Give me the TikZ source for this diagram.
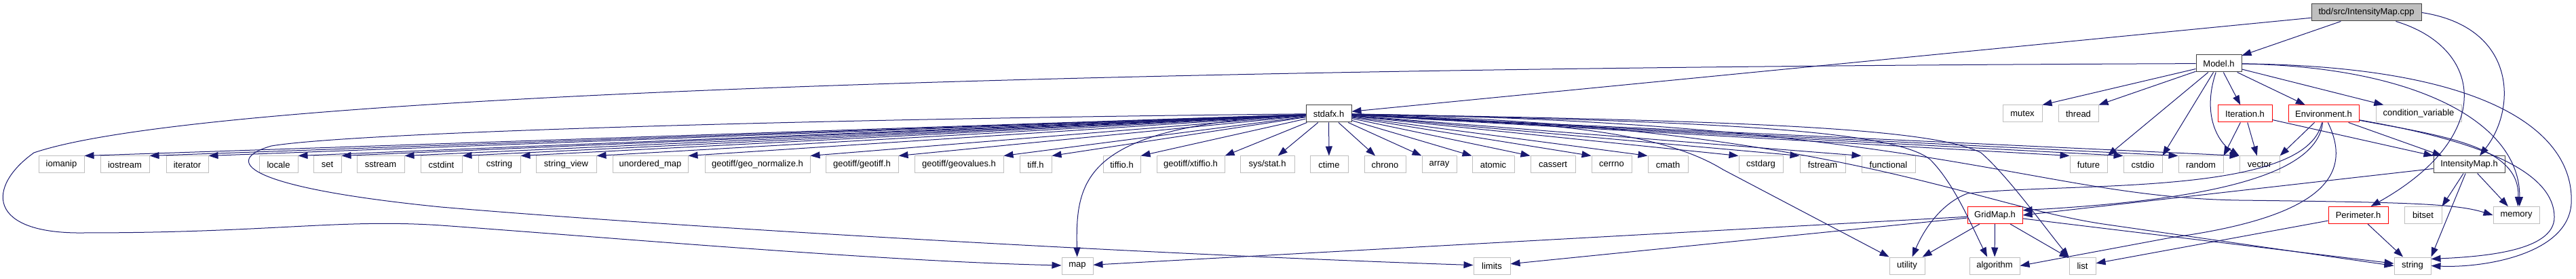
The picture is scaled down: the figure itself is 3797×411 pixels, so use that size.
\documentclass[tikz,border=0pt]{standalone}
\usepackage{fontspec}
\usepackage{xcolor}
\newfontfamily\dxfont{Liberation Sans}
\usetikzlibrary{arrows.meta,positioning}
\definecolor{edgeblue}{HTML}{191970}
\definecolor{hdrgray}{HTML}{BFBFBF}
\definecolor{framegray}{HTML}{404040}
\definecolor{rootgray}{HTML}{BFBFBF}

\begin{document}
\begin{tikzpicture}[x=1pt,y=-1pt,>={Triangle[length=14pt,width=10pt]},
    box/.style={rectangle,minimum height=25pt,inner xsep=2pt,inner ysep=0pt,
      line width=1pt,font=\dxfont\fontsize{13}{15}\selectfont},
    sysinc/.style={box,draw=hdrgray},
    localinc/.style={box,draw=framegray},
    cutinc/.style={box,draw=red},
    rootfile/.style={box,draw=framegray,fill=rootgray},
    dep/.style={->,draw=edgeblue,line width=1pt}]
  \useasboundingbox (0,0) rectangle (3797,411);

  % files of the project
  \node[rootfile,minimum width=162] (root) at (3488,18.5) {tbd/src/IntensityMap.cpp};
  \node[localinc,minimum width=67] (model) at (3270.5,93.5) {Model.h};
  \node[localinc,minimum width=67] (stdafx) at (1958.5,167.5) {stdafx.h};
  \node[cutinc,minimum width=80] (iteration) at (3309,167.5) {Iteration.h};
  \node[cutinc,minimum width=104] (env) at (3425,167.5) {Environment.h};
  \node[localinc,minimum width=105] (imap) at (3639.5,242.5) {IntensityMap.h};
  \node[cutinc,minimum width=81] (gridmap) at (2940.5,317) {GridMap.h};
  \node[cutinc,minimum width=88] (perimeter) at (3476,317) {Perimeter.h};

  % row of Model.h
  \node[sysinc,minimum width=58] (mutex) at (2981,167.5) {mutex};
  \node[sysinc,minimum width=59] (thread) at (3063.5,167.5) {thread};
  \node[sysinc,minimum width=126] (condvar) at (3565,167.5) {condition\_variable};

  % row of stdafx.h
  \node[sysinc,minimum width=67] (iomanip) at (90.5,242.5) {iomanip};
  \node[sysinc,minimum width=72] (iostream) at (184,242.5) {iostream};
  \node[sysinc,minimum width=62] (iterator) at (276,242.5) {iterator};
  \node[sysinc,minimum width=57] (locale) at (410.5,242.5) {locale};
  \node[sysinc,minimum width=41] (set) at (482.5,242.5) {set};
  \node[sysinc,minimum width=70] (sstream) at (561,242.5) {sstream};
  \node[sysinc,minimum width=61] (cstdint) at (650.5,242.5) {cstdint};
  \node[sysinc,minimum width=62] (cstring) at (736,242.5) {cstring};
  \node[sysinc,minimum width=89] (strview) at (834.5,242.5) {string\_view};
  \node[sysinc,minimum width=111] (umap) at (958.5,242.5) {unordered\_map};
  \node[sysinc,minimum width=155] (geonorm) at (1116.5,242.5) {geotiff/geo\_normalize.h};
  \node[sysinc,minimum width=107] (geotiff) at (1270.5,242.5) {geotiff/geotiff.h};
  \node[sysinc,minimum width=131] (geoval) at (1413.5,242.5) {geotiff/geovalues.h};
  \node[sysinc,minimum width=47] (tiff) at (1526.5,242.5) {tiff.h};
  \node[sysinc,minimum width=55] (tiffio) at (1653.5,242.5) {tiffio.h};
  \node[sysinc,minimum width=100] (xtiffio) at (1755,242.5) {geotiff/xtiffio.h};
  \node[sysinc,minimum width=80] (sysstat) at (1868,242.5) {sys/stat.h};
  \node[sysinc,minimum width=56] (ctime) at (1959,242.5) {ctime};
  \node[sysinc,minimum width=61] (chrono) at (2041.5,242.5) {chrono};
  \node[sysinc,minimum width=51] (array) at (2121.5,242.5) {array};
  \node[sysinc,minimum width=62] (atomic) at (2201,242.5) {atomic};
  \node[sysinc,minimum width=66] (cassert) at (2289,242.5) {cassert};
  \node[sysinc,minimum width=59] (cerrno) at (2375.5,242.5) {cerrno};
  \node[sysinc,minimum width=59] (cmath) at (2458.5,242.5) {cmath};
  \node[sysinc,minimum width=65] (cstdarg) at (2595.5,242.5) {cstdarg};
  \node[sysinc,minimum width=67] (fstream) at (2686.5,242.5) {fstream};
  \node[sysinc,minimum width=79] (functional) at (2783.5,242.5) {functional};
  \node[sysinc,minimum width=55] (future) at (3078.5,242.5) {future};
  \node[sysinc,minimum width=57] (cstdio) at (3158.5,242.5) {cstdio};
  \node[sysinc,minimum width=66] (random) at (3244,242.5) {random};
  \node[sysinc,minimum width=59] (vector) at (3330.5,242.5) {vector};

  % lower rows
  \node[sysinc,minimum width=55] (bitset) at (3571.5,317) {bitset};
  \node[sysinc,minimum width=68] (memory) at (3709,317) {memory};
  \node[sysinc,minimum width=46] (map) at (1588,391.5) {map};
  \node[sysinc,minimum width=54] (limits) at (2199,391.5) {limits};
  \node[sysinc,minimum width=52] (utility) at (2811,391.5) {utility};
  \node[sysinc,minimum width=74] (algorithm) at (2940,391.5) {algorithm};
  \node[sysinc,minimum width=39] (list) at (3069.5,391.5) {list};
  \node[sysinc,minimum width=54] (string) at (3556,391.5) {string};

  % IntensityMap.cpp
  \draw[dep] (root) -- (stdafx);
  \draw[dep] (root) -- (model);
  \draw[dep] (root) .. controls (3660,70) and (3680,200) .. (perimeter.35);
  \draw[dep] (root.east) .. controls (3710,40) and (3710,160) .. (imap.40);

  % Model.h
  \draw[dep] (model) .. controls (1600,100) and (300,140) .. (50,225)
    .. controls (-20,275) and (-20,345) .. (124,343)
    .. controls (400,343) and (500,322) .. (650,332)
    .. controls (900,350) and (1300,385) .. (map);
  \draw[dep] (model) -- (mutex.north east);
  \draw[dep] (model) -- (thread.north east);
  \draw[dep] (model) -- (future.north east);
  \draw[dep] (model) -- (cstdio.north east);
  \draw[dep] (model) .. controls (3245,170) and (3270,210) .. (vector.north west);
  \draw[dep] (model) -- (iteration);
  \draw[dep] (model) -- (env);
  \draw[dep] (model) -- (condvar);
  \draw[dep] (model) .. controls (3560,98) and (3715,180) .. (memory.70);
  \draw[dep] (model) .. controls (3680,98) and (3795,200) .. (3790,300)
    .. controls (3785,375) and (3660,395) .. (string.east);

  % Iteration.h
  \draw[dep] (iteration) -- (random.north east);
  \draw[dep] (iteration) -- (vector);
  \draw[dep] (iteration) -- (imap.north west);

  % Environment.h
  \draw[dep] (env) -- (vector.north east);
  \draw[dep] (env) -- (imap.162);
  \draw[dep] (env) .. controls (3415,260) and (3250,295) .. (gridmap.10);
  \draw[dep] (env) .. controls (3400,290) and (3050,268) .. (2900,285)
    .. controls (2860,300) and (2835,340) .. (utility.60);
  \draw[dep] (env) .. controls (3470,260) and (3420,320) .. (3200,350) -- (algorithm.east);
  \draw[dep] (env) .. controls (3600,200) and (3715,215) .. (memory.80);
  \draw[dep] (env) .. controls (3610,200) and (3765,240) .. (3765,320)
    .. controls (3765,370) and (3660,378) .. (string.20);

  % IntensityMap.h
  \draw[dep] (imap) -- (gridmap.east);
  \draw[dep] (imap) -- (bitset.north east);
  \draw[dep] (imap) -- (string.north east);
  \draw[dep] (imap) -- (memory);

  % Perimeter.h
  \draw[dep] (perimeter) -- (list);
  \draw[dep] (perimeter) -- (string);

  % GridMap.h
  \foreach \t in {map,limits,utility,algorithm,list,string}
    \draw[dep] (gridmap) -- (\t);

  % stdafx.h
  \foreach \t in {iomanip,iostream,iterator,locale,set,sstream,cstdint,cstring,
      strview,umap,geonorm,geotiff,geoval,tiff,tiffio,xtiffio}
    \draw[dep] (stdafx) -- (\t.north east);
  \foreach \t in {sysstat,ctime,chrono}
    \draw[dep] (stdafx) -- (\t);
  \foreach \t in {array,atomic,cassert,cerrno,cmath,cstdarg,fstream,functional,
      future,cstdio,random,vector}
    \draw[dep] (stdafx) -- (\t.north west);
  \draw[dep] (stdafx) .. controls (1600,185) and (1585,260) .. (map);
  \draw[dep] (stdafx) .. controls (1200,175) and (520,195) .. (400,215)
    .. controls (330,235) and (350,275) .. (650,305)
    .. controls (1000,335) and (1700,375) .. (limits);
  \draw[dep] (stdafx) .. controls (2300,180) and (2450,195) .. (2540,250) -- (utility.north west);
  \draw[dep] (stdafx) .. controls (2500,178) and (2790,190) .. (2845,235)
    .. controls (2880,270) and (2905,330) .. (algorithm.130);
  \draw[dep] (stdafx) .. controls (2600,178) and (2850,190) .. (2920,225)
    .. controls (2960,260) and (3010,330) .. (list.north west);
  \draw[dep] (stdafx) .. controls (2850,180) and (3000,290) .. (3300,295)
    .. controls (3550,298) and (3620,300) .. (memory.west);
  \draw[dep] (stdafx) .. controls (2700,185) and (2900,300) .. (3100,330) -- (string.west);
\end{tikzpicture}
\end{document}
